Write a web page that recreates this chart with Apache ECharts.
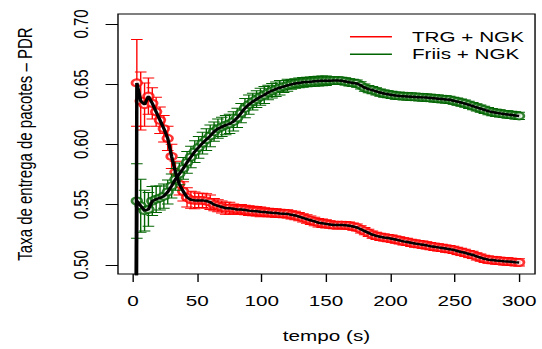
<!DOCTYPE html>
<html><head><meta charset="utf-8">
<script src="https://cdn.jsdelivr.net/npm/echarts@6/dist/echarts.min.js"></script>
<style>
html,body{margin:0;padding:0;background:#fff;overflow:hidden;}
#wrap{width:542px;height:349px;overflow:hidden;position:relative;background:#fff;}
#chart{width:392.75px;height:349px;transform:scaleX(1.38);transform-origin:0 0;position:absolute;left:0;top:0;}
</style></head><body>
<div id="wrap"><div id="chart"></div></div>
<script>
// time stamps (s)
const tempo = [1, 3, 6, 9, 12, 15, 18, 21, 24, 27, 30, 33, 36, 39, 42, 45, 48, 51, 54, 57, 60,
  63, 66, 69, 72, 75, 78, 81, 84, 87, 90, 93, 96, 99, 102, 105, 108, 111, 114, 117, 120,
  123, 126, 129, 132, 135, 138, 141, 144, 147, 150, 153, 156, 159, 162, 165, 168, 171, 174, 177, 180,
  183, 186, 189, 192, 195, 198, 201, 204, 207, 210, 213, 216, 219, 222, 225, 228, 231, 234, 237, 240,
  243, 246, 249, 252, 255, 258, 261, 264, 267, 270, 273, 276, 279, 282, 285, 288, 291, 294, 297, 300];

const trgNames = 'TRG + NGK';
const friisNames = 'Friis + NGK';

const trgPdr = [0,
  0.651, 0.636, 0.633, 0.640, 0.634, 0.627, 0.620, 0.613, 0.605, 0.590,
  0.577, 0.567, 0.561, 0.556, 0.554, 0.5535, 0.5535, 0.5535, 0.553, 0.552,
  0.550, 0.549, 0.548, 0.547, 0.547, 0.5465, 0.546, 0.546, 0.5455, 0.545,
  0.5447, 0.5445, 0.544, 0.5438, 0.5435, 0.5432, 0.543, 0.5427, 0.5425, 0.5423,
  0.5415, 0.541, 0.540, 0.539, 0.538, 0.537, 0.536, 0.535, 0.5345, 0.534,
  0.5335, 0.533, 0.533, 0.533, 0.5328, 0.5325, 0.5318, 0.531, 0.5295, 0.528,
  0.5265, 0.525, 0.524, 0.5233, 0.5227, 0.5222, 0.5217, 0.521, 0.5203, 0.5195,
  0.519, 0.5183, 0.5177, 0.5172, 0.5167, 0.5162, 0.5155, 0.515, 0.5145, 0.514,
  0.5135, 0.513, 0.5124, 0.5115, 0.5107, 0.510, 0.509, 0.5082, 0.507, 0.506,
  0.505, 0.5043, 0.504, 0.5036, 0.5033, 0.503, 0.5028, 0.5025, 0.5022, 0.502];

const trgErr = [0,
  0.036, 0.024, 0.018, 0.015, 0.013, 0.012, 0.011, 0.011, 0.010, 0.010,
  0.009, 0.009, 0.008, 0.008, 0.007, 0.007, 0.006, 0.006, 0.006, 0.006,
  0.005, 0.005, 0.005, 0.005, 0.005, 0.004, 0.004, 0.004, 0.004, 0.004,
  0.004, 0.004, 0.004, 0.0035, 0.0035, 0.0035, 0.0035, 0.0035, 0.0035, 0.0035,
  0.0035, 0.0035, 0.0035, 0.0035, 0.0035, 0.0035, 0.0035, 0.0035, 0.0035, 0.0035,
  0.003, 0.003, 0.003, 0.003, 0.003, 0.003, 0.003, 0.003, 0.003, 0.003,
  0.003, 0.003, 0.003, 0.003, 0.003, 0.003, 0.003, 0.003, 0.003, 0.003,
  0.003, 0.003, 0.003, 0.003, 0.003, 0.003, 0.003, 0.003, 0.003, 0.003,
  0.003, 0.003, 0.003, 0.003, 0.003, 0.003, 0.003, 0.003, 0.003, 0.003,
  0.003, 0.003, 0.003, 0.003, 0.003, 0.003, 0.003, 0.003, 0.003, 0.003];

const friisPdr = [0,
  0.553, 0.549, 0.545, 0.546, 0.553, 0.5545, 0.5555, 0.557, 0.5605, 0.5655,
  0.571, 0.5755, 0.580, 0.585, 0.5895, 0.594, 0.5975, 0.601, 0.604, 0.607,
  0.6105, 0.613, 0.6145, 0.616, 0.617, 0.619, 0.622, 0.626, 0.630, 0.633,
  0.6355, 0.6375, 0.6395, 0.641, 0.643, 0.6445, 0.6458, 0.647, 0.648, 0.649,
  0.6498, 0.6505, 0.651, 0.6515, 0.6518, 0.652, 0.6523, 0.6525, 0.6527, 0.6528,
  0.6529, 0.653, 0.653, 0.6528, 0.6522, 0.6515, 0.651, 0.6505, 0.649, 0.647,
  0.6458, 0.645, 0.644, 0.643, 0.6422, 0.6416, 0.641, 0.6405, 0.6402, 0.640,
  0.6398, 0.6396, 0.6394, 0.6392, 0.639, 0.6388, 0.6385, 0.6382, 0.6379, 0.6376,
  0.6373, 0.637, 0.6362, 0.6355, 0.6347, 0.6338, 0.6328, 0.6318, 0.6307, 0.6297,
  0.6287, 0.6276, 0.6268, 0.6262, 0.6257, 0.6252, 0.6248, 0.6244, 0.624, 0.6236];

const friisErr = [0,
  0.031, 0.022, 0.017, 0.014, 0.012, 0.011, 0.010, 0.010, 0.010, 0.010,
  0.009, 0.009, 0.009, 0.009, 0.009, 0.009, 0.009, 0.009, 0.009, 0.009,
  0.008, 0.008, 0.008, 0.008, 0.008, 0.008, 0.008, 0.008, 0.008, 0.008,
  0.007, 0.007, 0.007, 0.007, 0.006, 0.006, 0.006, 0.006, 0.005, 0.005,
  0.004, 0.004, 0.004, 0.004, 0.004, 0.004, 0.004, 0.004, 0.004, 0.004,
  0.003, 0.003, 0.003, 0.003, 0.003, 0.003, 0.003, 0.003, 0.003, 0.003,
  0.003, 0.003, 0.003, 0.003, 0.003, 0.003, 0.003, 0.003, 0.003, 0.003,
  0.003, 0.003, 0.003, 0.003, 0.003, 0.003, 0.003, 0.003, 0.003, 0.003,
  0.003, 0.003, 0.003, 0.003, 0.003, 0.003, 0.003, 0.003, 0.003, 0.003,
  0.003, 0.003, 0.003, 0.003, 0.003, 0.003, 0.003, 0.003, 0.003, 0.003];

const xTicks = [0, 50, 100, 150, 200, 250, 300];
const yTicks = [0.50, 0.55, 0.60, 0.65, 0.70];
const xTitle = 'tempo (s)';
const yTitle = 'Taxa de entrega de pacotes \u2013 PDR';

const RED = '#ff0000';
const GREEN = '#006400';
const FONT = '"Liberation Sans", Arial, Helvetica, sans-serif';

function pts(vals) { return tempo.map((t, i) => [t, vals[i]]); }
function errPts(vals, errs) { return tempo.map((t, i) => [t, vals[i], errs[i]]); }

function errBar(color) {
  return function (params, api) {
    const t = api.value(0), v = api.value(1), e = api.value(2);
    if (!e) return null;
    const top = api.coord([t, v + e]);
    const bot = api.coord([t, v - e]);
    const h = 4.2;
    const st = { stroke: color, lineWidth: 1 };
    return {
      type: 'group',
      children: [
        { type: 'line', shape: { x1: top[0], y1: top[1], x2: bot[0], y2: bot[1] }, style: st },
        { type: 'line', shape: { x1: top[0] - h, y1: top[1], x2: top[0] + h, y2: top[1] }, style: st },
        { type: 'line', shape: { x1: bot[0] - h, y1: bot[1], x2: bot[0] + h, y2: bot[1] }, style: st }
      ]
    };
  };
}

const chart = echarts.init(document.getElementById('chart'), null, { renderer: 'svg' });
chart.setOption({
  animation: false,
  backgroundColor: '#fff',
  textStyle: { fontFamily: FONT },
  grid: { left: 85.5, top: 14, width: 302.2, height: 262, show: true, borderColor: '#000', borderWidth: 1, backgroundColor: 'transparent' },
  legend: {
    orient: 'vertical', left: 248.6, top: 23.2,
    icon: 'rect', itemWidth: 30.4, itemHeight: 1.5, itemGap: 0.6,
    data: [trgNames, friisNames],
    textStyle: { fontFamily: FONT, fontSize: 15, color: '#000', lineHeight: 17, padding: [0, 0, 0, 9.5] }
  },
  xAxis: {
    type: 'value', min: -11.65, max: 312.35,
    name: xTitle, nameLocation: 'middle', nameGap: 55,
    nameTextStyle: { fontFamily: FONT, fontSize: 15, color: '#000' },
    axisLine: { show: false, onZero: false },
    axisTick: { show: true, inside: false, customValues: xTicks, length: 8, lineStyle: { color: '#000' } },
    axisLabel: { customValues: xTicks, fontFamily: FONT, fontSize: 15, color: '#000', margin: 20 },
    splitLine: { show: false }
  },
  yAxis: {
    type: 'value', min: 0.4924, max: 0.7082,
    name: yTitle, nameLocation: 'middle', nameGap: 60, nameRotate: 90,
    nameTextStyle: { fontFamily: FONT, fontSize: 15, color: '#000' },
    axisLine: { show: false, onZero: false },
    axisTick: { show: true, inside: false, customValues: yTicks, length: 9, lineStyle: { color: '#000' } },
    axisLabel: { customValues: yTicks, rotate: 90, fontFamily: FONT, fontSize: 15, color: '#000', margin: 19.3,
      formatter: v => v.toFixed(2) },
    splitLine: { show: false }
  },
  series: [
    { name: trgNames, type: 'custom', renderItem: errBar(RED), data: errPts(trgPdr, trgErr), clip: true, z: 2, itemStyle: { color: RED } },
    { name: trgNames, type: 'scatter', data: pts(trgPdr), symbol: 'emptyCircle', symbolSize: 7, clip: true, z: 2,
      itemStyle: { color: RED, borderColor: RED, borderWidth: 1.2 } },
    { name: friisNames, type: 'custom', renderItem: errBar(GREEN), data: errPts(friisPdr, friisErr), clip: true, z: 3, itemStyle: { color: GREEN } },
    { name: friisNames, type: 'scatter', data: pts(friisPdr), symbol: 'emptyCircle', symbolSize: 7, clip: true, z: 3,
      itemStyle: { color: GREEN, borderColor: GREEN, borderWidth: 1.2 } },
    { name: 'trgMean', type: 'line', data: pts(trgPdr), showSymbol: false, clip: true, z: 5,
      lineStyle: { color: '#000', width: 2.5 } },
    { name: 'friisMean', type: 'line', data: pts(friisPdr), showSymbol: false, clip: true, z: 5,
      lineStyle: { color: '#000', width: 2.5 } }
  ]
});
</script>
</body></html>
